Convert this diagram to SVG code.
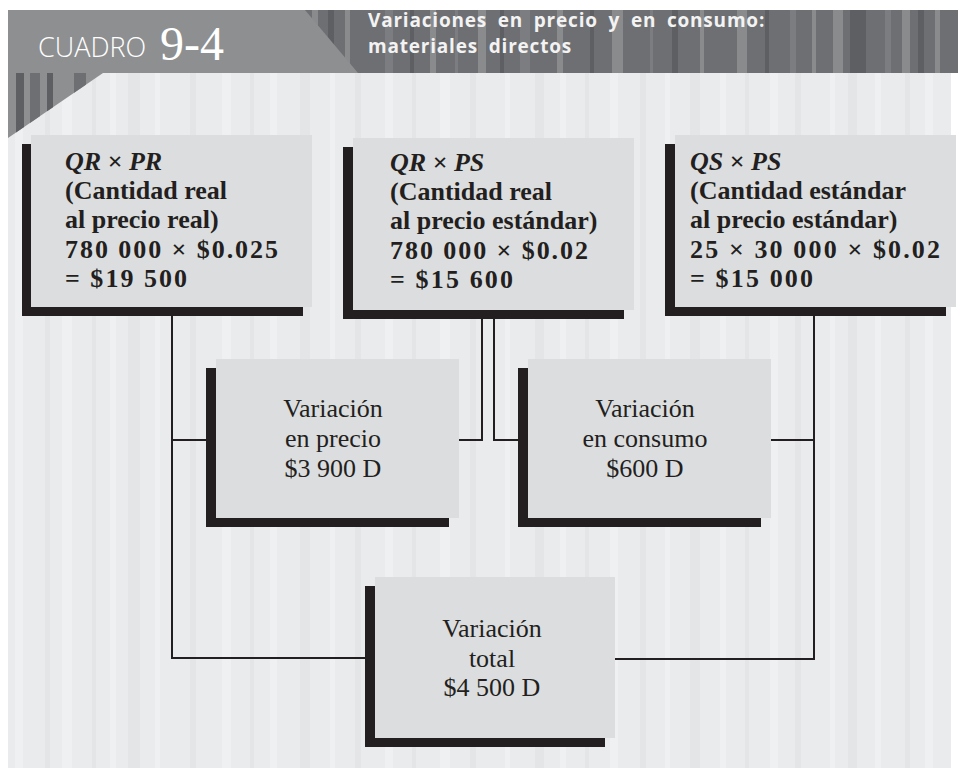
<svg xmlns="http://www.w3.org/2000/svg" width="958" height="771" viewBox="0 0 958 771">
<style>
.bg{fill:#eaebec}
.sl{fill:#eff0f1}
.sd{fill:#e4e5e6}
.hd{fill:#6e6f72}
.hl{fill:#8a8b8d}
.hk{fill:#5e5f62}
.hm{fill:#7c7d80}
.sh{fill:#231f20}
.bx{fill:#dcdddf}
.ln{fill:none;stroke:#231f20;stroke-width:2}
.t{font-family:"Liberation Serif","Times New Roman",serif;font-size:26px;fill:#231f20;font-weight:bold}
.tc{font-family:"Liberation Serif","Times New Roman",serif;font-size:26px;fill:#231f20;text-anchor:middle}
.it{font-style:italic}
.ttl{font-family:"Open Sans","Liberation Sans",sans-serif;font-weight:bold;font-size:19px;fill:#f3f3f3;word-spacing:5px;letter-spacing:0.8px}
</style>
<defs>
<clipPath id="tri"><polygon points="8,73 103,73 8,138"/></clipPath>
</defs>
<rect x="0" y="0" width="958" height="771" fill="#ffffff"/>
<rect class="bg" x="8" y="73" width="943" height="695"/>
<g>
<rect class="sl" x="15" y="73" width="8" height="695"/>
<rect class="sd" x="45" y="73" width="5" height="695"/>
<rect class="sl" x="62" y="73" width="10" height="695"/>
<rect class="sd" x="92" y="73" width="4" height="695"/>
<rect class="sl" x="110" y="73" width="6" height="695"/>
<rect class="sd" x="128" y="73" width="12" height="695"/>
<rect class="sl" x="155" y="73" width="5" height="695"/>
<rect class="sd" x="190" y="73" width="6" height="695"/>
<rect class="sl" x="222" y="73" width="9" height="695"/>
<rect class="sd" x="250" y="73" width="4" height="695"/>
<rect class="sl" x="270" y="73" width="7" height="695"/>
<rect class="sd" x="300" y="73" width="10" height="695"/>
<rect class="sl" x="330" y="73" width="5" height="695"/>
<rect class="sd" x="355" y="73" width="6" height="695"/>
<rect class="sl" x="385" y="73" width="8" height="695"/>
<rect class="sd" x="412" y="73" width="4" height="695"/>
<rect class="sl" x="440" y="73" width="10" height="695"/>
<rect class="sd" x="470" y="73" width="6" height="695"/>
<rect class="sl" x="505" y="73" width="5" height="695"/>
<rect class="sd" x="535" y="73" width="9" height="695"/>
<rect class="sl" x="560" y="73" width="6" height="695"/>
<rect class="sd" x="585" y="73" width="4" height="695"/>
<rect class="sl" x="610" y="73" width="8" height="695"/>
<rect class="sd" x="640" y="73" width="6" height="695"/>
<rect class="sl" x="665" y="73" width="5" height="695"/>
<rect class="sd" x="690" y="73" width="10" height="695"/>
<rect class="sl" x="720" y="73" width="6" height="695"/>
<rect class="sd" x="745" y="73" width="4" height="695"/>
<rect class="sl" x="770" y="73" width="8" height="695"/>
<rect class="sd" x="795" y="73" width="6" height="695"/>
<rect class="sl" x="830" y="73" width="5" height="695"/>
<rect class="sd" x="848" y="73" width="9" height="695"/>
<rect class="sl" x="875" y="73" width="6" height="695"/>
<rect class="sd" x="905" y="73" width="5" height="695"/>
<rect class="sl" x="925" y="73" width="8" height="695"/>
</g>
<g id="header">
<rect class="hd" x="8" y="10" width="950" height="63"/>
<rect class="hl" x="312" y="10" width="6" height="63"/>
<rect class="hk" x="328" y="10" width="6" height="63"/>
<rect class="hl" x="345" y="10" width="5" height="63"/>
<rect class="hm" x="385" y="10" width="8" height="63"/>
<rect class="hk" x="410" y="10" width="4" height="63"/>
<rect class="hl" x="430" y="10" width="6" height="63"/>
<rect class="hm" x="455" y="10" width="3" height="63"/>
<rect class="hl" x="478" y="10" width="8" height="63"/>
<rect class="hk" x="500" y="10" width="4" height="63"/>
<rect class="hm" x="520" y="10" width="10" height="63"/>
<rect class="hl" x="557" y="10" width="6" height="63"/>
<rect class="hk" x="590" y="10" width="4" height="63"/>
<rect class="hl" x="612" y="10" width="11" height="63"/>
<rect class="hm" x="650" y="10" width="3" height="63"/>
<rect class="hk" x="672" y="10" width="6" height="63"/>
<rect class="hl" x="700" y="10" width="4" height="63"/>
<rect class="hl" x="737" y="10" width="10" height="63"/>
<rect class="hk" x="765" y="10" width="4" height="63"/>
<rect class="hm" x="790" y="10" width="6" height="63"/>
<rect class="hl" x="812" y="10" width="4" height="63"/>
<rect class="hl" x="833" y="10" width="10" height="63"/>
<rect class="hk" x="850" y="10" width="16" height="63"/>
<rect class="hm" x="885" y="10" width="6" height="63"/>
<rect class="hl" x="902" y="10" width="8" height="63"/>
<rect class="hk" x="918" y="10" width="6" height="63"/>
<rect class="hl" x="935" y="10" width="5" height="63"/>
<polygon points="8,10 305,10 358,73 8,73" fill="#8e8f91"/>
<g clip-path="url(#tri)">
<rect x="8" y="73" width="100" height="65" fill="#8e8f91"/>
<rect class="hk" x="16" y="73" width="8" height="65"/>
<rect class="hd" x="30" y="73" width="10" height="65"/>
<rect class="hk" x="47" y="73" width="6" height="65"/>
<rect class="hd" x="74" y="73" width="12" height="65"/>
</g>
<text x="38" y="57" font-family="'Open Sans','Liberation Sans',sans-serif" font-weight="300" font-size="27" fill="#ffffff">CUADRO</text>
<text x="160" y="60" font-family="'Liberation Serif','Times New Roman',serif" font-size="48" fill="#ffffff">9-4</text>
<text class="ttl"><tspan x="368" y="27">Variaciones en precio y en consumo:</tspan><tspan x="368" y="53">materiales directos</tspan></text>
</g>
<g id="connectors">
<path class="ln" d="M172 316 V658 H365"/>
<path class="ln" d="M172 440 H206"/>
<path class="ln" d="M482 319 V440 H459"/>
<path class="ln" d="M494 319 V440 H518"/>
<path class="ln" d="M814 316 V659 H615"/>
<path class="ln" d="M771 440 H814"/>
</g>
<g id="qr-pr">
<rect class="sh" x="22" y="144" width="281" height="172"/>
<rect class="bx" x="31" y="135" width="281" height="172"/>
<text class="t" x="65" y="170"><tspan class="it">QR</tspan> × <tspan class="it">PR</tspan></text>
<text class="t" x="65" y="199">(Cantidad real</text>
<text class="t" x="65" y="228">al precio real)</text>
<text class="t" x="65" y="258" textLength="213" lengthAdjust="spacing">780 000 × $0.025</text>
<text class="t" x="65" y="287" textLength="122" lengthAdjust="spacing">= $19 500</text>
</g>
<g id="qr-ps">
<rect class="sh" x="343" y="147" width="281" height="172"/>
<rect class="bx" x="353" y="138" width="281" height="172"/>
<text class="t" x="390" y="171"><tspan class="it">QR</tspan> × <tspan class="it">PS</tspan></text>
<text class="t" x="390" y="200">(Cantidad real</text>
<text class="t" x="390" y="229">al precio estándar)</text>
<text class="t" x="390" y="259" textLength="198" lengthAdjust="spacing">780 000 × $0.02</text>
<text class="t" x="390" y="288" textLength="123" lengthAdjust="spacing">= $15 600</text>
</g>
<g id="qs-ps">
<rect class="sh" x="665" y="144" width="281" height="172"/>
<rect class="bx" x="675" y="135" width="281" height="172"/>
<text class="t" x="690" y="170"><tspan class="it">QS</tspan> × <tspan class="it">PS</tspan></text>
<text class="t" x="690" y="199">(Cantidad estándar</text>
<text class="t" x="690" y="228">al precio estándar)</text>
<text class="t" x="690" y="258" textLength="250" lengthAdjust="spacing">25 × 30 000 × $0.02</text>
<text class="t" x="690" y="287" textLength="123" lengthAdjust="spacing">= $15 000</text>
</g>
<g id="var-precio">
<rect class="sh" x="206" y="368" width="243" height="159"/>
<rect class="bx" x="216" y="359" width="243" height="159"/>
<text class="tc" x="333" y="417">Variación</text>
<text class="tc" x="333" y="447">en precio</text>
<text class="tc" x="333" y="477">$3 900 D</text>
</g>
<g id="var-consumo">
<rect class="sh" x="518" y="368" width="243" height="159"/>
<rect class="bx" x="528" y="359" width="243" height="159"/>
<text class="tc" x="645" y="417">Variación</text>
<text class="tc" x="645" y="447">en consumo</text>
<text class="tc" x="645" y="477">$600 D</text>
</g>
<g id="var-total">
<rect class="sh" x="365" y="586" width="240" height="161"/>
<rect class="bx" x="375" y="577" width="240" height="161"/>
<text class="tc" x="492" y="637">Variación</text>
<text class="tc" x="492" y="667">total</text>
<text class="tc" x="492" y="696">$4 500 D</text>
</g>
</svg>
